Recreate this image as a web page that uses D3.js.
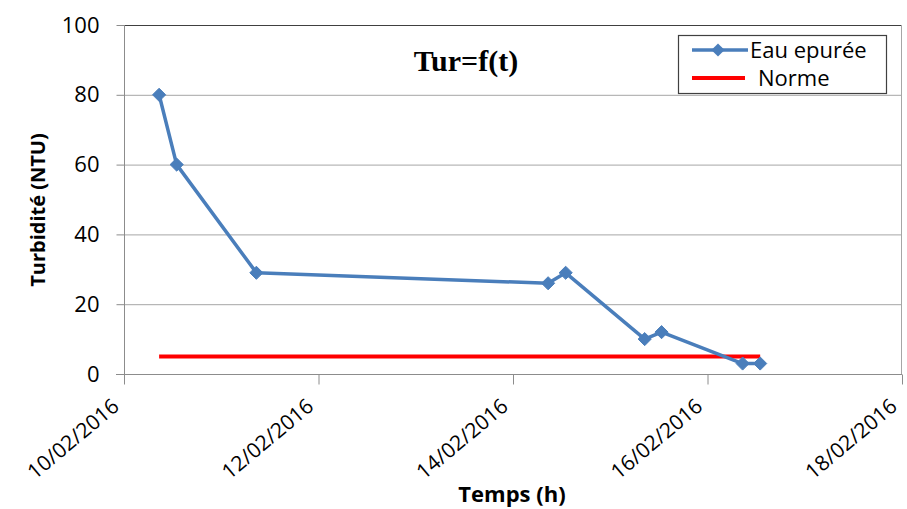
<!DOCTYPE html>
<html>
<head>
<meta charset="utf-8">
<script src="https://cdn.jsdelivr.net/npm/d3@7"></script>
<style>
  body { margin: 0; background: #fff; }
  svg { display: block; }
  text { font-family: "Open Sans", sans-serif; fill: #000; }
</style>
</head>
<body>
<svg></svg>
<script>
//	chart data
var dates = ["2016-02-10 08:40", "2016-02-10 13:00", "2016-02-11 08:40", "2016-02-14 08:40",
             "2016-02-14 13:00", "2016-02-15 08:30", "2016-02-15 12:40", "2016-02-16 08:40", "2016-02-16 13:00"];
var turbidite = [80, 60, 29, 26, 29, 10, 12, 3, 3];
var normeDates = ["2016-02-10 08:40", "2016-02-16 13:00"];
var normeValues = [5, 5];
var xTickLabels = ["2016-02-10 00:00", "2016-02-12 00:00", "2016-02-14 00:00", "2016-02-16 00:00", "2016-02-18 00:00"];
var yTicks = [0, 20, 40, 60, 80, 100];

var width = 907, height = 509;
var margin = {left: 124, right: 5, top: 25, bottom: 135};

var parse = d3.timeParse("%Y-%m-%d %H:%M");
var fmt = d3.timeFormat("%d/%m/%Y");

var svg = d3.select("svg").attr("width", width).attr("height", height);

//	scales
var x = d3.scaleTime()
    .domain([parse(xTickLabels[0]), parse(xTickLabels[xTickLabels.length - 1])])
    .range([margin.left, width - margin.right]);
var y = d3.scaleLinear()
    .domain([0, 100])
    .range([height - margin.bottom, margin.top]);

var x0 = x.range()[0], x1 = x.range()[1];
var yb = y(0), yt = y(100);

//	gridlines
svg.append("g").selectAll("line")
    .data(yTicks.slice(1, -1))
    .enter().append("line")
    .attr("x1", x0).attr("x2", x1)
    .attr("y1", function(d) { return y(d) + 0.5; })
    .attr("y2", function(d) { return y(d) + 0.5; })
    .attr("stroke", "#a6a6a6").attr("stroke-width", 1);

// top border and right border
svg.append("line").attr("x1", x0).attr("x2", x1).attr("y1", yt + 0.5).attr("y2", yt + 0.5)
    .attr("stroke", "#404040").attr("stroke-width", 1.2);
svg.append("line").attr("x1", x1 - 0.5).attr("x2", x1 - 0.5).attr("y1", yt).attr("y2", yb)
    .attr("stroke", "#a6a6a6").attr("stroke-width", 1);

//	y axis
var yAxis = svg.append("g")
    .attr("transform", "translate(" + (x0 + 0.5) + ",0)")
    .call(d3.axisLeft(y).tickValues(yTicks).tickSize(8).tickPadding(17));
yAxis.select(".domain").attr("stroke", "#8c8c8c").attr("d", "M0," + yt + "V" + (yb + 8));
yAxis.selectAll(".tick line").attr("stroke", "#8c8c8c");
yAxis.selectAll(".tick text")
    .style("font-family", "Open Sans, sans-serif")
    .style("font-size", "22px")
    .attr("fill", "#000");

//	x axis
var xAxis = svg.append("g")
    .attr("transform", "translate(0," + (yb + 0.5) + ")")
    .call(d3.axisBottom(x).tickValues(xTickLabels.map(parse)).tickFormat(fmt).tickSize(10));
xAxis.select(".domain").attr("stroke", "#8c8c8c").attr("d", "M" + (x0 - 8) + ",0H" + x1);
xAxis.selectAll(".tick line").attr("stroke", "#8c8c8c");
xAxis.selectAll(".tick text")
    .style("font-family", "Open Sans, sans-serif")
    .style("font-size", "21px")
    .attr("fill", "#000")
    .attr("text-anchor", "end")
    .attr("dy", null)
    .attr("transform", "translate(-4,34) rotate(-40)")
    .attr("x", 0).attr("y", 0);

//	norme line
var normeData = normeDates.map(function(d, i) { return {t: parse(d), v: normeValues[i]}; });
var line = d3.line()
    .x(function(d) { return x(d.t); })
    .y(function(d) { return y(d.v); });

svg.append("path")
    .datum(normeData)
    .attr("d", line)
    .attr("fill", "none")
    .attr("stroke", "#ff0000")
    .attr("stroke-width", 4);

//	series
var data = dates.map(function(d, i) { return {t: parse(d), v: turbidite[i]}; });
svg.append("path")
    .datum(data)
    .attr("d", line)
    .attr("fill", "none")
    .attr("stroke", "#4a7ebb")
    .attr("stroke-width", 3.5)
    .attr("stroke-linejoin", "round");

var diamond = d3.symbol().type(d3.symbolDiamond2).size(110);
svg.append("g").selectAll("path")
    .data(data)
    .enter().append("path")
    .attr("d", diamond)
    .attr("transform", function(d) { return "translate(" + x(d.t) + "," + y(d.v) + ")"; })
    .attr("fill", "#4a7ebb")
    .attr("stroke", "#4a7ebb")
    .attr("stroke-width", 1);

//	title
svg.append("text")
    .attr("x", 466).attr("y", 71)
    .attr("text-anchor", "middle")
    .style("font-family", "Liberation Serif, serif")
    .style("font-weight", "bold")
    .style("font-size", "30px")
    .text("Tur=f(t)");

//	axis titles
svg.append("text")
    .attr("transform", "translate(45,210) rotate(-90)")
    .attr("text-anchor", "middle")
    .style("font-weight", "bold")
    .style("font-size", "20px")
    .text("Turbidité (NTU)");

svg.append("text")
    .attr("x", 512).attr("y", 502)
    .attr("text-anchor", "middle")
    .style("font-weight", "bold")
    .style("font-size", "22px")
    .text("Temps (h)");

//	legend
var legend = svg.append("g");
legend.append("rect")
    .attr("x", 678.5).attr("y", 35.5).attr("width", 208).attr("height", 58)
    .attr("fill", "#fff").attr("stroke", "#404040").attr("stroke-width", 1.2);
legend.append("line").attr("x1", 692).attr("x2", 748).attr("y1", 50).attr("y2", 50)
    .attr("stroke", "#4a7ebb").attr("stroke-width", 3.5);
legend.append("path").attr("d", diamond)
    .attr("transform", "translate(718,50)")
    .attr("fill", "#4a7ebb");
legend.append("line").attr("x1", 692).attr("x2", 745).attr("y1", 78).attr("y2", 78)
    .attr("stroke", "#ff0000").attr("stroke-width", 4);
legend.append("text").attr("x", 750).attr("y", 58)
    .style("font-size", "22px").text("Eau epurée");
legend.append("text").attr("x", 758).attr("y", 86)
    .style("font-size", "22px").text("Norme");
</script>
</body>
</html>
